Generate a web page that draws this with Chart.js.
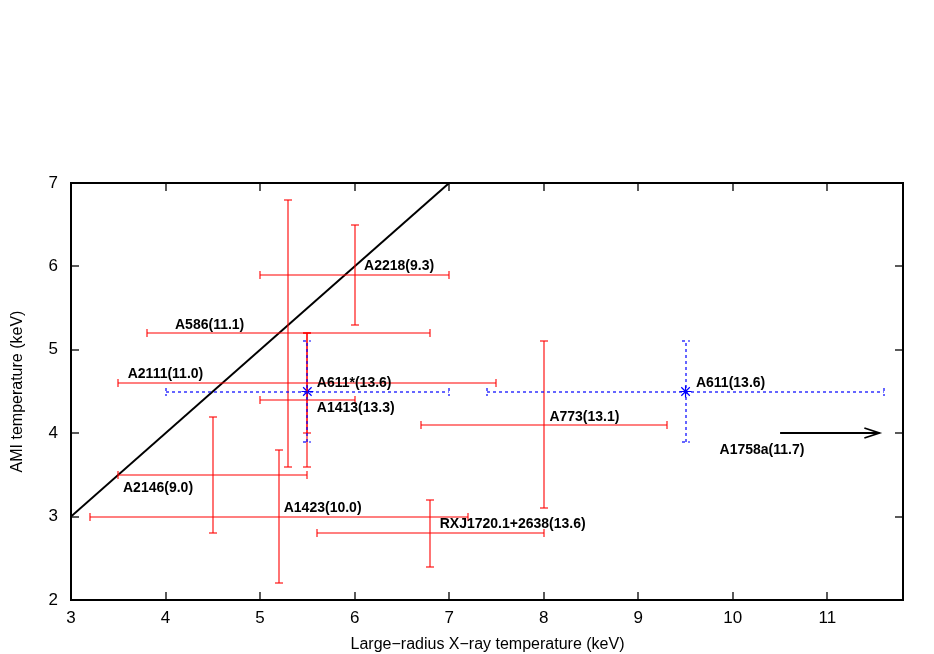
<!DOCTYPE html>
<html>
<head>
<meta charset="utf-8">
<script src="https://cdn.jsdelivr.net/npm/chart.js@4/dist/chart.umd.min.js"></script>
<style>
  html, body { margin: 0; padding: 0; background: #fff; }
  #c { display: block; }
</style>
</head>
<body>
<canvas id="c" width="934" height="654"></canvas>
<script>
// ---- data ----
const xTicks = [3, 4, 5, 6, 7, 8, 9, 10, 11];
const yTicks = [2, 3, 4, 5, 6, 7];

// red clusters (large-radius X-ray T vs AMI T)
const redNames = ['A2218(9.3)', 'A586(11.1)', 'A2111(11.0)', 'A1413(13.3)', 'A773(13.1)', 'A2146(9.0)', 'A1423(10.0)', 'RXJ1720.1+2638(13.6)'];
const redX     = [6.0, 5.3, 5.5, 5.5, 8.0, 4.5, 5.2, 6.8];
const redY     = [5.9, 5.2, 4.6, 4.4, 4.1, 3.5, 3.0, 2.8];
const redXLow  = [5.0, 3.8, 3.5, 5.0, 6.7, 3.5, 3.2, 5.6];
const redXHigh = [7.0, 6.8, 7.5, 6.0, 9.3, 5.5, 7.2, 8.0];
const redYLow  = [5.3, 3.6, 3.6, 4.0, 3.1, 2.8, 2.2, 2.4];
const redYHigh = [6.5, 6.8, 5.2, 5.2, 5.1, 4.2, 3.8, 3.2];
const redLabelX = [6.1, 4.1, 3.6, 5.6, 8.06, 3.55, 5.25, 6.9];
const redLabelY = [6.0, 5.29, 4.71, 4.3, 4.19, 3.34, 3.1, 2.91];

// blue clusters (A611 two estimates)
const blueNames = ['A611*(13.6)', 'A611(13.6)'];
const blueX     = [5.5, 9.5];
const blueY     = [4.5, 4.5];
const blueXLow  = [4.0, 7.4];
const blueXHigh = [7.0, 11.6];
const blueYLow  = [3.9, 3.9];
const blueYHigh = [5.1, 5.1];
const blueLabelX = [5.6, 9.61];
const blueLabelY = [4.6, 4.6];

// equality line
const lineX = [3, 7];
const lineY = [3, 7];

// A1758a lower-limit arrow
const arrowName = 'A1758a(11.7)';
const arrowFromX = 10.5, arrowToX = 11.55, arrowY = 4.0;
const arrowLabelX = 9.86, arrowLabelY = 3.8;

const xTitle = 'Large\u2212radius X\u2212ray temperature (keV)';
const yTitle = 'AMI temperature (keV)';

// ---- drawing ----
const FONT = "'Liberation Sans', Arial, Helvetica, sans-serif";
Chart.defaults.font.family = FONT;
Chart.defaults.color = '#000';

const overlay = {
  id: 'overlay',
  afterDatasetsDraw(chart) {
    const { ctx, chartArea: a, scales: { x, y } } = chart;
    const px = v => x.getPixelForValue(v);
    const py = v => y.getPixelForValue(v);
    const r = v => Math.round(v);
    const line = (x1, y1, x2, y2) => { ctx.beginPath(); ctx.moveTo(x1, y1); ctx.lineTo(x2, y2); ctx.stroke(); };
    ctx.save();

    const cap = 4;
    const bars = (xs, ys, xl0, xh0, yl0, yh0) => {
      for (let i = 0; i < xs.length; i++) {
        const yc = r(py(ys[i])), xc = r(px(xs[i]));
        const xl = r(px(xl0[i])), xh = r(px(xh0[i]));
        const yl = r(py(yl0[i])), yh = r(py(yh0[i]));
        line(xl, yc, xh, yc);
        line(xl, yc - cap, xl, yc + cap);
        line(xh, yc - cap, xh, yc + cap);
        line(xc, yl, xc, yh);
        line(xc - cap, yl, xc + cap, yl);
        line(xc - cap, yh, xc + cap, yh);
      }
    };

    // red error bars
    ctx.strokeStyle = '#ff0000';
    ctx.lineWidth = 1.1;
    bars(redX, redY, redXLow, redXHigh, redYLow, redYHigh);

    // blue dashed error bars
    ctx.strokeStyle = '#0000ff';
    ctx.lineWidth = 1.2;
    ctx.setLineDash([3, 3]);
    bars(blueX, blueY, blueXLow, blueXHigh, blueYLow, blueYHigh);
    ctx.setLineDash([]);

    // arrow
    ctx.strokeStyle = '#000';
    ctx.lineWidth = 1.8;
    const ax1 = px(arrowFromX), ax2 = px(arrowToX), ay = r(py(arrowY));
    line(ax1, ay, ax2, ay);
    ctx.beginPath();
    ctx.moveTo(ax2 - 15, ay - 5);
    ctx.lineTo(ax2, ay);
    ctx.lineTo(ax2 - 15, ay + 5);
    ctx.stroke();

    // frame and inward ticks
    ctx.lineWidth = 2;
    ctx.strokeStyle = '#000';
    ctx.strokeRect(a.left, a.top, a.right - a.left, a.bottom - a.top);
    ctx.lineWidth = 1.3;
    const tl = 8;
    xTicks.forEach(v => {
      const xx = r(px(v));
      if (xx <= a.left + 1 || xx >= a.right - 1) return;
      line(xx, a.bottom, xx, a.bottom - tl);
      line(xx, a.top, xx, a.top + tl);
    });
    yTicks.forEach(v => {
      const yy = r(py(v));
      if (yy <= a.top + 1 || yy >= a.bottom - 1) return;
      line(a.left, yy, a.left + tl, yy);
      line(a.right, yy, a.right - tl, yy);
    });

    // point labels
    ctx.fillStyle = '#000';
    ctx.font = 'bold 14px ' + FONT;
    ctx.textAlign = 'left';
    ctx.textBaseline = 'middle';
    redNames.forEach((n, i) => ctx.fillText(n, px(redLabelX[i]), py(redLabelY[i])));
    blueNames.forEach((n, i) => ctx.fillText(n, px(blueLabelX[i]), py(blueLabelY[i])));
    ctx.fillText(arrowName, px(arrowLabelX), py(arrowLabelY));

    // axis titles
    ctx.font = '16px ' + FONT;
    ctx.textAlign = 'center';
    ctx.fillText(xTitle, (a.left + a.right) / 2 + 0.5, 645);
    ctx.save();
    ctx.translate(18, (a.top + a.bottom) / 2);
    ctx.rotate(-Math.PI / 2);
    ctx.fillText(yTitle, 0, 0);
    ctx.restore();

    ctx.restore();
  }
};

new Chart(document.getElementById('c'), {
  type: 'scatter',
  data: {
    datasets: [
      {
        label: 'equality',
        data: lineX.map((v, i) => ({ x: v, y: lineY[i] })),
        showLine: true,
        borderColor: '#000',
        borderWidth: 2,
        pointRadius: 0,
        order: 2
      },
      {
        label: 'red',
        data: redX.map((v, i) => ({ x: v, y: redY[i] })),
        pointRadius: 0,
        borderColor: '#ff0000'
      },
      {
        label: 'blue',
        data: blueX.map((v, i) => ({ x: v, y: blueY[i] })),
        pointStyle: 'star',
        pointRadius: 6,
        borderColor: '#0000ff',
        backgroundColor: '#0000ff',
        borderWidth: 1.2
      }
    ]
  },
  options: {
    responsive: false,
    animation: false,
    events: [],
    layout: { padding: { top: 183, right: 31, left: 0, bottom: 0 } },
    plugins: { legend: { display: false }, tooltip: { enabled: false } },
    scales: {
      x: {
        type: 'linear',
        min: 3, max: 11.8,
        afterBuildTicks: s => { s.ticks = xTicks.map(v => ({ value: v })); },
        afterFit: s => { s.height = 54; },
        grid: { display: false, drawTicks: false },
        border: { display: false },
        ticks: { padding: 8, color: '#000', font: { size: 17 } }
      },
      y: {
        type: 'linear',
        min: 2, max: 7,
        afterBuildTicks: s => { s.ticks = yTicks.map(v => ({ value: v })); },
        afterFit: s => { s.width = 71; },
        grid: { display: false, drawTicks: false },
        border: { display: false },
        ticks: { padding: 13, color: '#000', font: { size: 17 } }
      }
    }
  },
  plugins: [overlay]
});
</script>
</body>
</html>
